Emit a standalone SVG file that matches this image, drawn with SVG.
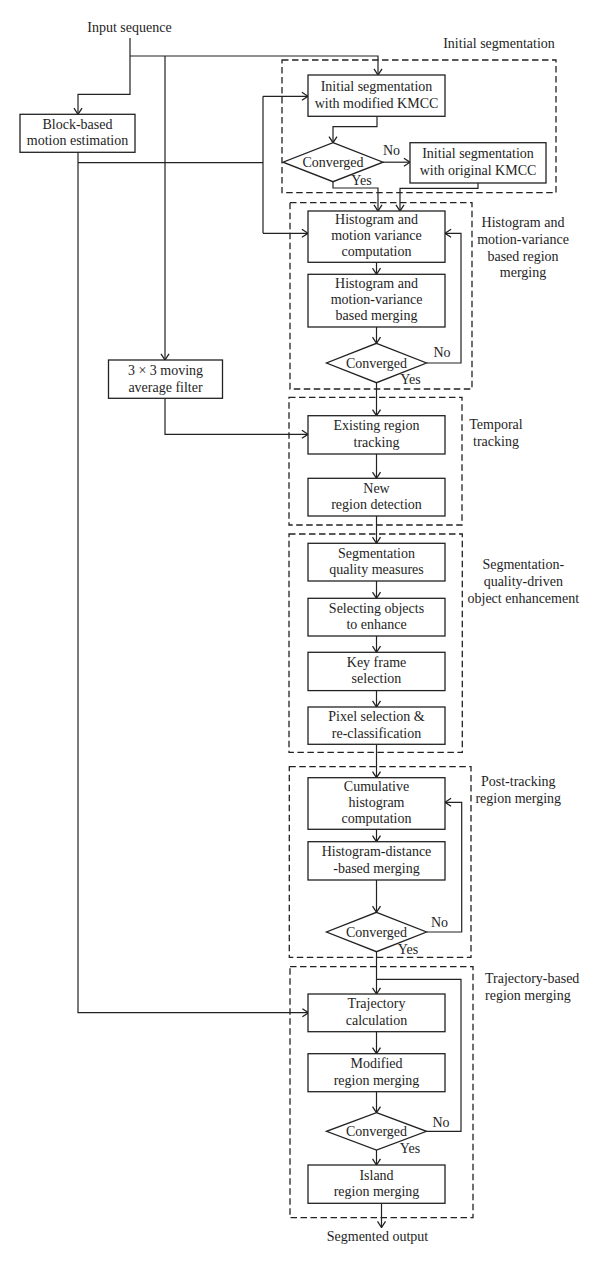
<svg xmlns="http://www.w3.org/2000/svg" width="600" height="1266" viewBox="0 0 600 1266">
<style>
text{font-family:"Liberation Serif","Times New Roman",serif;font-size:14px;fill:#1e1e1e;text-anchor:middle}
.lbl{text-anchor:middle}
.left{text-anchor:start}
.box{fill:#fff;stroke:#222;stroke-width:1.3}
.grp{fill:none;stroke:#222;stroke-width:1.3;stroke-dasharray:6.5 3.5}
.c{fill:none;stroke:#222;stroke-width:1.2}
.a{marker-end:url(#arr)}
</style>
<defs>
<marker id="arr" viewBox="0 0 10 10" refX="9.3" refY="5" markerWidth="10" markerHeight="10" orient="auto" markerUnits="userSpaceOnUse">
<path d="M3.2,1 L9.3,5 L3.2,9" fill="none" stroke="#222" stroke-width="1.3"/>
</marker>
</defs>
<rect width="600" height="1266" fill="#fff"/>

<g id="groups">
<rect class="grp" x="282" y="60" width="274" height="132.7"/>
<text x="499" y="48.3">Initial segmentation</text>
<rect class="grp" x="290" y="202.7" width="182" height="186.3"/>
<text x="523" y="227.3">Histogram and</text>
<text x="523" y="244">motion-variance</text>
<text x="523" y="260.7">based region</text>
<text x="523" y="277.3">merging</text>
<rect class="grp" x="289" y="397.3" width="173" height="127.7"/>
<text x="496" y="429.3">Temporal</text>
<text x="496" y="446">tracking</text>
<rect class="grp" x="289" y="534" width="173.3" height="218.3"/>
<text x="523.3" y="569.3">Segmentation-</text>
<text x="523.3" y="586">quality-driven</text>
<text x="523.3" y="602.7">object enhancement</text>
<rect class="grp" x="289.3" y="766.7" width="181.7" height="190.6"/>
<text x="518.3" y="786">Post-tracking</text>
<text x="518.3" y="802.7">region merging</text>
<rect class="grp" x="290" y="966.7" width="183" height="251"/>
<text class="left" x="485" y="983.3">Trajectory-based</text>
<text class="left" x="485" y="1000">region merging</text>
</g>

<g id="connectors">
<path class="c a" d="M130,38 V94.3 H78 V114.3"/>
<path class="c a" d="M130,56 H378 V75"/>
<path class="c a" d="M165,56 V360"/>
<path class="c a" d="M78,152.3 V1012.7 H308.5"/>
<path class="c" d="M78,162.7 H263 M263,96.3 V233.3"/>
<path class="c a" d="M263,96.3 H308"/>
<path class="c a" d="M263,233.3 H308"/>
<path class="c a" d="M377,116.3 V126.7 H333 V142.7"/>
<path class="c a" d="M383,162.2 H410"/>
<path class="c a" d="M333,181.7 V188 H378 V211"/>
<path class="c a" d="M478,183 V188.3 H400 V211"/>
<path class="c a" d="M376.5,262.3 V274.3"/>
<path class="c a" d="M376.5,327 V343.3"/>
<path class="c a" d="M426.5,363 H461 V233.3 H445"/>
<path class="c a" d="M376.5,382.7 V415.7"/>
<path class="c a" d="M165,398.3 V434.3 H308"/>
<path class="c a" d="M376.5,454 V478.3"/>
<path class="c a" d="M376.5,516 V543.3"/>
<path class="c a" d="M376.5,581 V598.3"/>
<path class="c a" d="M376.5,636 V652.3"/>
<path class="c a" d="M376.5,690.6 V707"/>
<path class="c a" d="M376.5,744.3 V777.7"/>
<path class="c a" d="M376.5,829.3 V841.7"/>
<path class="c a" d="M376.5,880 V912.3"/>
<path class="c a" d="M426.5,932 H461.7 V802.3 H445"/>
<path class="c a" d="M376.5,951.7 V994"/>
<path class="c" d="M426.5,1131.3 H461 V979.3 H376.5"/>
<path class="c a" d="M376.5,1031.7 V1053.7"/>
<path class="c a" d="M376.5,1091.7 V1112.7"/>
<path class="c a" d="M376.5,1150 V1165"/>
<path class="c a" d="M381.5,1203.3 V1227.5"/>
<text x="391.5" y="155">No</text>
<text x="361.5" y="185">Yes</text>
<text x="442" y="356.7">No</text>
<text x="410.5" y="384.3">Yes</text>
<text x="439.5" y="926.7">No</text>
<text x="408" y="954">Yes</text>
<text x="441" y="1127.3">No</text>
<text x="410" y="1152.7">Yes</text>
</g>

<g id="input"><text x="129.5" y="31.7">Input sequence</text></g>
<g id="block_me"><rect class="box" x="20" y="114.3" width="115" height="38"/><text x="77.5" y="128.8">Block-based</text><text x="77.5" y="145">motion estimation</text></g>
<g id="init_mod"><rect class="box" x="308" y="75" width="137" height="41.3"/><text x="376.5" y="91.2">Initial segmentation</text><text x="376.5" y="107.5">with modified KMCC</text></g>
<g id="conv1"><polygon class="box" points="333,142.7 383,162.2 333,181.7 283,162.2"/><text x="333" y="166.7">Converged</text></g>
<g id="init_orig"><rect class="box" x="410" y="142.7" width="136" height="40.3"/><text x="478" y="158.3">Initial segmentation</text><text x="478" y="174.5">with original KMCC</text></g>
<g id="hist_comp"><rect class="box" x="308" y="211" width="137" height="51.3"/><text x="376.5" y="223.7">Histogram and</text><text x="376.5" y="240">motion variance</text><text x="376.5" y="256.3">computation</text></g>
<g id="hist_merge"><rect class="box" x="308" y="274.3" width="137" height="52.7"/><text x="376.5" y="287.7">Histogram and</text><text x="376.5" y="304">motion-variance</text><text x="376.5" y="320.3">based merging</text></g>
<g id="conv2"><polygon class="box" points="376.5,343.3 426.5,363 376.5,382.7 326.5,363"/><text x="376.5" y="367.5">Converged</text></g>
<g id="ma_filter"><rect class="box" x="108.5" y="360" width="114" height="38.3"/><text x="165.5" y="375">3 × 3 moving</text><text x="165.5" y="391.5">average filter</text></g>
<g id="existing"><rect class="box" x="308" y="415.7" width="137" height="38.3"/><text x="376.5" y="430.3">Existing region</text><text x="376.5" y="446.6">tracking</text></g>
<g id="new_region"><rect class="box" x="308" y="478.3" width="137" height="37.7"/><text x="376.5" y="492.7">New</text><text x="376.5" y="509">region detection</text></g>
<g id="seg_quality"><rect class="box" x="308" y="543.3" width="137" height="37.7"/><text x="376.5" y="557.7">Segmentation</text><text x="376.5" y="574">quality measures</text></g>
<g id="select_obj"><rect class="box" x="308" y="598.3" width="137" height="37.7"/><text x="376.5" y="612.7">Selecting objects</text><text x="376.5" y="629">to enhance</text></g>
<g id="key_frame"><rect class="box" x="308" y="652.3" width="137" height="38.3"/><text x="376.5" y="667">Key frame</text><text x="376.5" y="683.3">selection</text></g>
<g id="pixel_sel"><rect class="box" x="308" y="707" width="137" height="37.3"/><text x="376.5" y="721.2">Pixel selection &amp;</text><text x="376.5" y="737.5">re-classification</text></g>
<g id="cum_hist"><rect class="box" x="308" y="777.7" width="137" height="51.6"/><text x="376.5" y="790.5">Cumulative</text><text x="376.5" y="806.8">histogram</text><text x="376.5" y="823.1">computation</text></g>
<g id="hist_dist"><rect class="box" x="308" y="841.7" width="137" height="38.3"/><text x="376.5" y="856.3">Histogram-distance</text><text x="376.5" y="872.6">-based merging</text></g>
<g id="conv3"><polygon class="box" points="376.5,912.3 426.5,932 376.5,951.7 326.5,932"/><text x="376.5" y="936.5">Converged</text></g>
<g id="traj_calc"><rect class="box" x="308" y="994" width="137" height="37.7"/><text x="376.5" y="1008.3">Trajectory</text><text x="376.5" y="1024.6">calculation</text></g>
<g id="mod_merge"><rect class="box" x="308" y="1053.7" width="137" height="38"/><text x="376.5" y="1068.2">Modified</text><text x="376.5" y="1084.5">region merging</text></g>
<g id="conv4"><polygon class="box" points="376.5,1112.7 426.5,1131.3 376.5,1150 326.5,1131.3"/><text x="376.5" y="1135.8">Converged</text></g>
<g id="island"><rect class="box" x="308" y="1165" width="137" height="38.3"/><text x="376.5" y="1179.7">Island</text><text x="376.5" y="1196">region merging</text></g>
<g id="output"><text x="377.5" y="1241">Segmented output</text></g>
</svg>
